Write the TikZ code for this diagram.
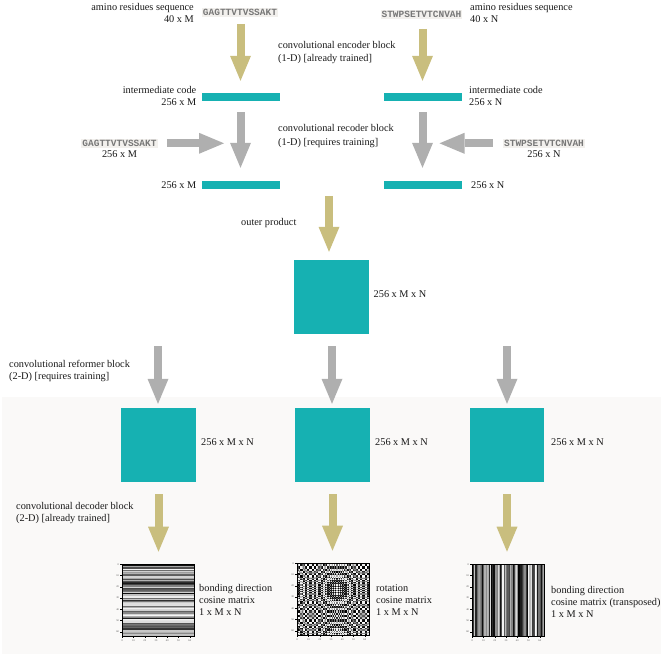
\documentclass[tikz,border=0pt]{standalone}
\usepackage{fontspec}
\setmainfont{Liberation Serif}
\newfontfamily\seqfont{Liberation Mono}
\usetikzlibrary{arrows.meta,calc}
\definecolor{tealc}{RGB}{22,177,178}
\definecolor{olivec}{RGB}{201,190,126}
\definecolor{greyc}{RGB}{175,175,175}
\definecolor{txtc}{RGB}{25,25,25}
\definecolor{seqbg}{RGB}{242,240,237}
\definecolor{seqtxt}{RGB}{120,120,120}
\definecolor{panelbg}{RGB}{250,249,248}
\tikzset{
  lbl/.style={font=\fontsize{10.3}{12}\selectfont, text=txtc, inner sep=0pt, align=left},
  lblw/.style={lbl, font=\fontsize{10.3}{13.5}\selectfont},
  tick/.style={font=\fontsize{2.6}{3}\selectfont, text=black!70, inner sep=0pt},
  seq/.style={font=\seqfont\bfseries\fontsize{9.5}{10}\selectfont, text=seqtxt, fill=seqbg, inner xsep=1pt, inner ysep=1.5pt},
  bar/.style={fill=tealc, minimum width=78pt, minimum height=8pt, inner sep=0pt},
  cube/.style={fill=tealc, minimum width=75pt, minimum height=74pt, inner sep=0pt},
  plotframe/.style={draw=black, line width=0.6pt, minimum size=72pt, inner sep=0pt},
  oarrow/.style={draw=olivec, fill=olivec, line width=8pt, -{Triangle[width=21pt,length=25pt,line width=0pt]}},
  garrow/.style={draw=greyc, fill=greyc, line width=8pt, -{Triangle[width=21pt,length=25pt,line width=0pt]}}
}
\begin{document}
\begin{tikzpicture}[x=1pt,y=-1pt]
\useasboundingbox (0,0) rectangle (661,655);
\fill[panelbg] (2,397) rectangle (661,654);

% ---- top left column
\node[seq] (seqL) at (240,12.5) {GAGTTVTVSSAKT};
\node[lbl, anchor=north east, align=right] (aminoL) at (194,3) {amino residues sequence\\40 x M};
\node[bar] (barL1) at (240.5,97) {};
\node[bar] (barL2) at (240.5,185.5) {};
\node[lbl, anchor=north east, align=right] (icL) at (196.5,86) {intermediate code\\256 x M};
\node[seq] (seqL2) at (119.5,143.3) {GAGTTVTVSSAKT};
\node[lbl, anchor=north] (dimL2) at (119.5,150) {256 x M};
\node[lbl, anchor=east] (dimL3) at (196.5,185.5) {256 x M};

% ---- top right column
\node[seq] (seqR) at (421.5,14.5) {STWPSETVTCNVAH};
\node[lbl, anchor=north west] (aminoR) at (470,3.5) {amino residues sequence\\40 x N};
\node[bar] (barR1) at (422.5,97) {};
\node[bar] (barR2) at (422.5,185.5) {};
\node[lbl, anchor=north west] (icR) at (469,86) {intermediate code\\256 x N};
\node[seq] (seqR2) at (544,143.3) {STWPSETVTCNVAH};
\node[lbl, anchor=north] (dimR2) at (544,150) {256 x N};
\node[lbl, anchor=west] (dimR3) at (471,185.5) {256 x N};

% ---- middle texts
\node[lblw, anchor=north west] (enc) at (278,41) {convolutional encoder block\\(1-D) [already trained]};
\node[lblw, anchor=north west] (rec) at (278,124.5) {convolutional recoder block\\(1-D) [requires training]};
\node[lbl, anchor=west] (opl) at (241,223) {outer product};

% ---- outer product cube
\node[cube] (sq0) at (331,297) {};
\node[lbl, anchor=west] (sq0l) at (373.5,294) {256 x M x N};
\node[lbl, anchor=north west] (reform) at (9,360) {convolutional reformer block\\(2-D) [requires training]};

% ---- second row cubes
\node[cube] (sq1) at (158.5,445) {};
\node[cube] (sq2) at (332.5,445) {};
\node[cube, minimum width=74pt] (sq3) at (507,445) {};
\node[lbl, anchor=west] (sq1l) at (201,442) {256 x M x N};
\node[lbl, anchor=west] (sq2l) at (375,442) {256 x M x N};
\node[lbl, anchor=west] (sq3l) at (551,442) {256 x M x N};
\node[lbl, anchor=north west] (dec) at (16,502.5) {convolutional decoder block\\(2-D) [already trained]};

% ---- plots
% plot 1: horizontal stripes
\pgfmathsetseed{11}
\foreach \i in {0,...,63}{
  \pgfmathsetmacro\g{int(100*rnd)}
  \fill[black!\g] (122,{564+\i*1.125}) rectangle (194,{564+\i*1.125+1.2});
}
% plot 3: vertical stripes
\pgfmathsetseed{29}
\foreach \i in {0,...,63}{
  \pgfmathsetmacro\g{int(100*rnd)}
  \fill[black!\g] ({472+\i*1.125},564) rectangle ({472+\i*1.125+1.2},636);
}
% plot 2: rotation cosine pattern
\foreach \i in {0,...,63}{
  \pgfmathsetmacro\pa{mod(92*mod((\i-25)*(\i-25),90),360)}
  \foreach \j in {0,...,63}{
    \pgfmathsetmacro\v{50+50*cos(\pa+mod(92*mod((\j-35)*(\j-35),90),360)+7*\i)}
    \fill[black!\v] ({297+\j*1.125},{563+\i*1.125}) rectangle ++(1.2,1.2);
  }
}
\node[plotframe] (p1) at (158,600) {};
\node[plotframe] (p2) at (333,599) {};
\node[plotframe] (p3) at (508,600) {};
\foreach \p in {p1,p2,p3}{
  \foreach \k in {0,...,6}{
    \draw[line width=0.3pt] ($(\p.north west)+(0,{(10*\k+0.5)*1.125})$) -- ++(-1.5,0);
    \node[tick, anchor=east] at ($(\p.north west)+(-2.5,{(10*\k+0.5)*1.125})$) {\pgfmathparse{int(10*\k)}\pgfmathresult};
    \draw[line width=0.3pt] ($(\p.south west)+({(10*\k+0.5)*1.125},0)$) -- ++(0,1.5);
    \node[tick, anchor=north] at ($(\p.south west)+({(10*\k+0.5)*1.125},3)$) {\pgfmathparse{int(10*\k)}\pgfmathresult};
  }
}
\node[lbl, anchor=north west] (p1l) at (199,584.5) {bonding direction\\cosine matrix\\1 x M x N};
\node[lbl, anchor=north west] (p2l) at (376,584.5) {rotation\\cosine matrix\\1 x M x N};
\node[lbl, anchor=north west] (p3l) at (551,586) {bonding direction\\cosine matrix (transposed)\\1 x M x N};

% ---- arrows
\coordinate (joinL) at (240.5,143.3);
\coordinate (joinR) at (422.5,143.3);
\coordinate (opstart) at (329,196);
\coordinate (r1) at (158,346);
\coordinate (r2) at (332,346);
\coordinate (r3) at (507,346);
\draw[oarrow, shorten <=6.5pt, shorten >=12pt] (seqL.south -| barL1.north) -- (barL1.north);
\draw[oarrow, shorten <=9.5pt, shorten >=12pt] (seqR.south -| barR1.north) -- (barR1.north);
\draw[garrow, shorten <=11pt, shorten >=13.5pt] (barL1.south) -- (barL2.north);
\draw[garrow, shorten <=11pt, shorten >=13.5pt] (barR1.south) -- (barR2.north);
\draw[garrow, shorten <=9pt, shorten >=16.5pt] (seqL2.east) -- (joinL);
\draw[garrow, shorten <=10pt, shorten >=17pt] (seqR2.west) -- (joinR);
\draw[oarrow, shorten >=8pt] (opstart) -- (opstart |- sq0.north);
\draw[garrow, shorten >=4pt] (r1) -- (r1 |- sq1.north);
\draw[garrow, shorten >=4pt] (r2) -- (r2 |- sq2.north);
\draw[garrow, shorten >=4pt] (r3) -- (r3 |- sq3.north);
\draw[oarrow, shorten <=12pt, shorten >=12pt] (sq1.south) -- (sq1.south |- p1.north);
\draw[oarrow, shorten <=12pt, shorten >=12pt] (sq2.south) -- (sq2.south |- p2.north);
\draw[oarrow, shorten <=12pt, shorten >=12pt] (sq3.south) -- (sq3.south |- p3.north);
\end{tikzpicture}
\end{document}
